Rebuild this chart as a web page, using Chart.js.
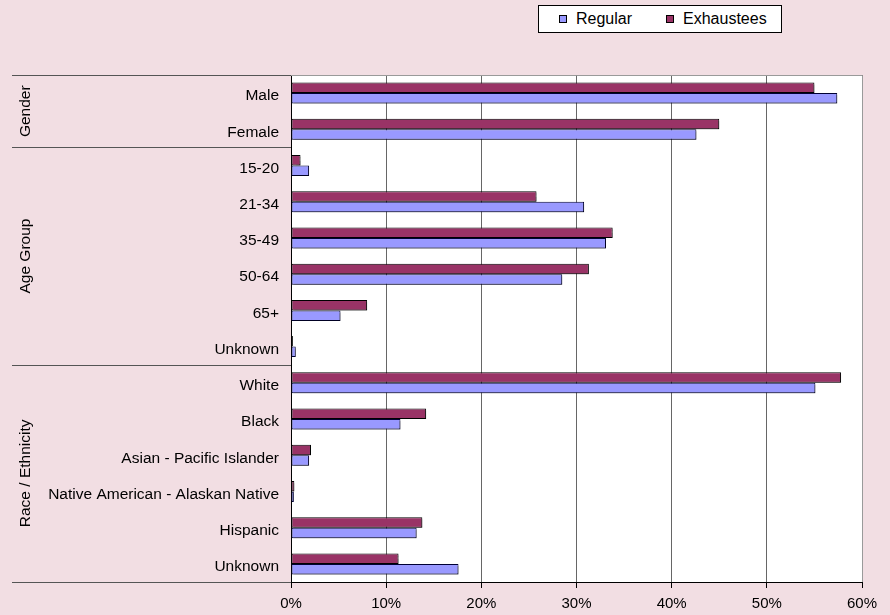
<!DOCTYPE html>
<html>
<head>
<meta charset="utf-8">
<script src="https://cdn.jsdelivr.net/npm/chart.js@4/dist/chart.umd.min.js"></script>
<style>
  body { margin: 0; background: #f2dee3; }
  #wrap { position: relative; width: 890px; height: 615px; background: #f2dee3; }
  #legend {
    position: absolute; left: 538px; top: 5px; width: 242px; height: 26px;
    border: 1px solid #000; background: #fff;
    font: 16px "Liberation Sans", Arial, sans-serif; color: #000;
    display: flex; align-items: center;
  }
  #legend span.item { display: flex; align-items: center; }
  #legend span.box { display: inline-block; width: 6px; height: 6px; border: 1px solid #000; margin-right: 9px; }
</style>
</head>
<body>
<div id="wrap">
  <canvas id="chart"></canvas>
  <div id="legend"></div>
</div>
<script>
// data (percent of claimants)
const categories = ['Male', 'Female', '15-20', '21-34', '35-49', '50-64', '65+', 'Unknown',
  'White', 'Black', 'Asian - Pacific Islander', 'Native American - Alaskan Native', 'Hispanic', 'Unknown']
const regular = [57.4, 42.6, 1.9, 30.8, 33.1, 28.5, 5.2, 0.5, 55.1, 11.5, 1.9, 0.3, 13.2, 17.6]
const exhaustees = [55.0, 45.0, 1.0, 25.8, 33.8, 31.3, 8.0, 0.2, 57.8, 14.2, 2.1, 0.35, 13.8, 11.3]
const groupNames = ['Gender', 'Age Group', 'Race / Ethnicity']
const groupSizes = [2, 6, 6]
const xTicks = [0, 10, 20, 30, 40, 50, 60]

const FONT = '"Liberation Sans", Arial, sans-serif'

// white plot area + grey frame on top/right
const plotFrame = {
  id: 'plotFrame',
  beforeDraw(chart) {
    const { ctx, chartArea: a } = chart
    ctx.save()
    ctx.fillStyle = '#fff'
    ctx.fillRect(a.left, a.top, a.right - a.left, a.bottom - a.top)
    ctx.restore()
  },
  afterDraw(chart) {
    const { ctx, chartArea: a } = chart
    ctx.save()
    ctx.strokeStyle = '#9a9a9a'
    ctx.lineWidth = 1
    ctx.beginPath()
    ctx.moveTo(a.left, a.top + 0.5)
    ctx.lineTo(a.right + 0.5, a.top + 0.5)
    ctx.lineTo(a.right + 0.5, a.bottom)
    ctx.stroke()
    ctx.restore()
  }
}

// group separators and rotated group names on the left
const groupLabels = {
  id: 'groupLabels',
  afterDraw(chart) {
    const { ctx } = chart
    const y = chart.scales.y
    const step = (y.bottom - y.top) / categories.length
    ctx.save()
    ctx.strokeStyle = '#555'
    ctx.lineWidth = 1
    ctx.font = '15.5px ' + FONT
    ctx.fillStyle = '#000'
    ctx.textAlign = 'center'
    ctx.textBaseline = 'middle'
    let start = 0
    const edge = (i) => Math.round(y.top + i * step) + 0.5
    ctx.beginPath()
    ctx.moveTo(12, edge(0)); ctx.lineTo(y.right, edge(0))
    ctx.stroke()
    groupNames.forEach((name, g) => {
      const end = start + groupSizes[g]
      ctx.beginPath()
      ctx.moveTo(12, edge(end)); ctx.lineTo(y.right, edge(end))
      ctx.stroke()
      const mid = (y.top + start * step + y.top + end * step) / 2
      ctx.save()
      ctx.translate(26, mid)
      ctx.rotate(-Math.PI / 2)
      ctx.fillText(name, 0, 0)
      ctx.restore()
      start = end
    })
    ctx.restore()
  }
}

const barShadow = {
  id: 'barShadow',
  beforeDatasetsDraw(chart) {
    const ctx = chart.ctx
    ctx.save()
    ctx.shadowColor = 'rgba(0,0,0,0.3)'
    ctx.shadowOffsetX = 2
    ctx.shadowOffsetY = 2
    ctx.shadowBlur = 1
  },
  afterDatasetsDraw(chart) {
    chart.ctx.restore()
  }
}

const chart = new Chart(document.getElementById('chart'), {
  type: 'bar',
  data: {
    labels: categories,
    datasets: [
      {
        label: 'Exhaustees',
        data: exhaustees,
        backgroundColor: '#993366',
        borderColor: '#000',
        borderWidth: 1,
        borderSkipped: false
      },
      {
        label: 'Regular',
        data: regular,
        backgroundColor: '#9999ff',
        borderColor: '#000033',
        borderWidth: 1,
        borderSkipped: false
      }
    ]
  },
  options: {
    indexAxis: 'y',
    responsive: true,
    maintainAspectRatio: false,
    animation: false,
    devicePixelRatio: 1,
    layout: { padding: { top: 75, right: 28, bottom: 0, left: 0 } },
    datasets: { bar: { categoryPercentage: 0.58, barPercentage: 1 } },
    plugins: {
      legend: { display: false },
      tooltip: { enabled: false }
    },
    scales: {
      x: {
        min: 0,
        max: 60,
        afterBuildTicks: (s) => { s.ticks = xTicks.map(v => ({ value: v })) },
        afterFit: (s) => { s.height = 33 },
        ticks: {
          color: '#000',
          padding: 7,
          maxRotation: 0,
          font: { family: FONT, size: 15 },
          callback: (v) => v + '%'
        },
        grid: { color: '#666', lineWidth: 1, tickLength: 6, tickColor: '#000' },
        border: { color: '#000', width: 1 }
      },
      y: {
        afterFit: (s) => { s.width = 291 },
        ticks: {
          color: '#000',
          padding: 4,
          labelOffset: 3,
          autoSkip: false,
          font: { family: FONT, size: 15.5 }
        },
        grid: { display: false },
        border: { display: true, color: '#000', width: 1 }
      }
    }
  },
  plugins: [plotFrame, groupLabels, barShadow]
})

// legend box, Regular first like the original
const legend = document.getElementById('legend')
const legendOrder = [1, 0]
legendOrder.forEach((i, n) => {
  const ds = chart.data.datasets[i]
  const item = document.createElement('span')
  item.className = 'item'
  item.style.marginLeft = n == 0 ? '20px' : '34px'
  item.innerHTML = `<span class="box" style="background:${ds.backgroundColor}"></span>${ds.label}`
  legend.appendChild(item)
})
</script>
</body>
</html>
